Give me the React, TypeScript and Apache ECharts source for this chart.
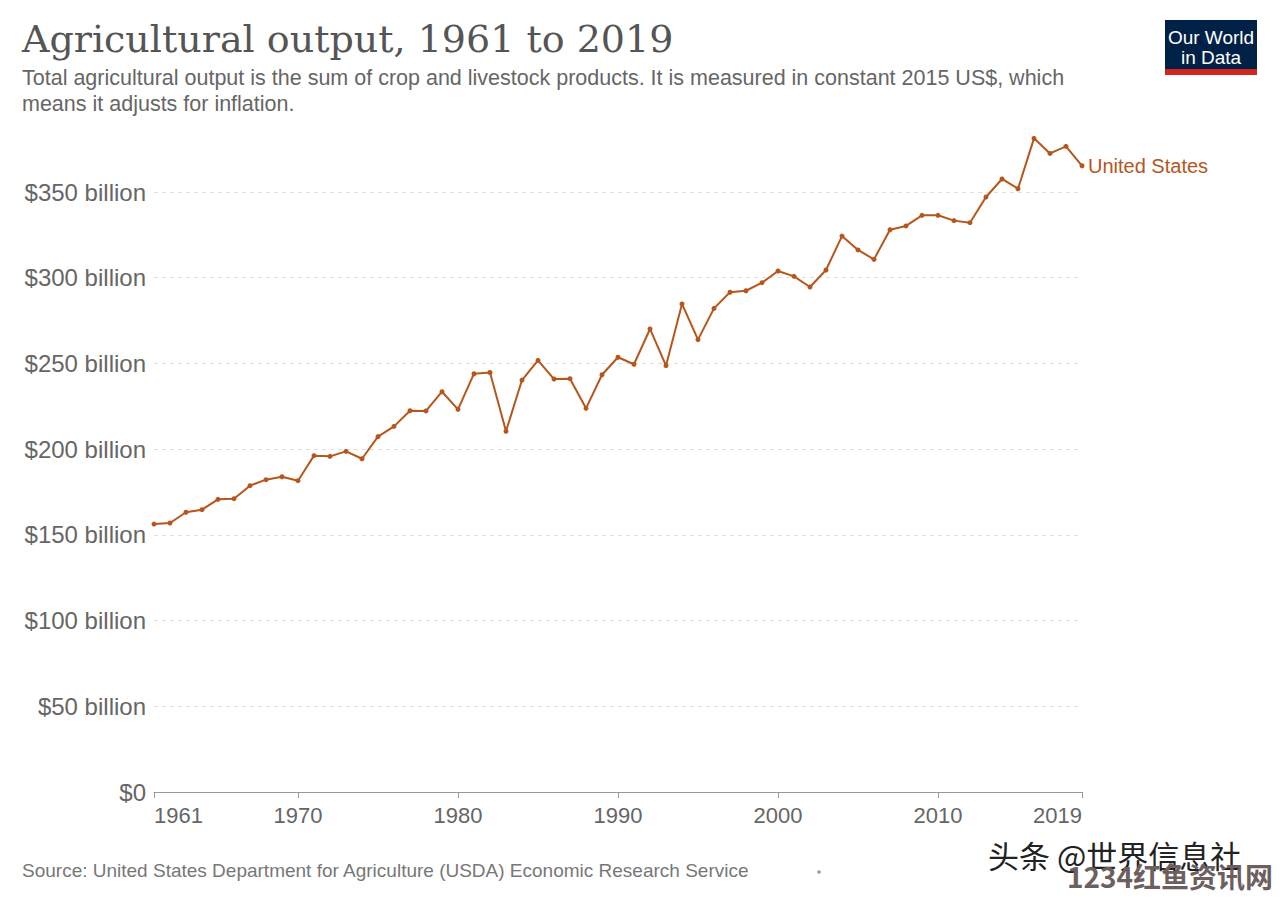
import React, { useEffect, useRef } from "react";
import * as echarts from "echarts";

const years: string[] = Array.from({ length: 59 }, (_, i) => String(1961 + i));
const shownYears: string[] = ["1961", "1970", "1980", "1990", "2000", "2010", "2019"];
const usOutput: number[] = [
  156.3, 156.9, 163.2, 164.7, 170.7, 171.1, 178.7, 182.2, 183.9, 181.6,
  196.2, 195.8, 198.7, 194.4, 207.3, 213.3, 222.4, 222.3, 233.5, 223.2,
  244.0, 244.7, 210.4, 240.3, 251.8, 240.9, 241.1, 223.8, 243.4, 253.6,
  249.5, 270.1, 248.7, 284.7, 263.9, 282.1, 291.5, 292.4, 297.1, 303.9,
  300.8, 294.6, 304.5, 324.3, 316.2, 310.7, 328.0, 330.2, 336.4, 336.4,
  333.3, 332.1, 347.1, 357.6, 351.9, 381.3, 372.5, 376.6, 365.3,
];
const seriesName = "United States";
const title = "Agricultural output, 1961 to 2019";
const subtitle1 =
  "Total agricultural output is the sum of crop and livestock products. It is measured in constant 2015 US$, which";
const subtitle2 = "means it adjusts for inflation.";
const source = "Source: United States Department for Agriculture (USDA) Economic Research Service";

const LINE_COLOR = "#b6561c";
const SANS = "'Liberation Sans', Arial, sans-serif";

export default function App() {
  const ref = useRef<HTMLDivElement>(null);
  useEffect(() => {
    if (!ref.current) return;
    const chart = echarts.init(ref.current, null, { renderer: "svg" });
    chart.setOption({
      animation: false,
      backgroundColor: "#ffffff",
      grid: { left: 154, right: 198, top: 192, bottom: 112 },
      xAxis: {
        type: "category",
        data: years,
        boundaryGap: false,
        axisLine: { show: true, lineStyle: { color: "#999", width: 1 } },
        axisTick: {
          show: true,
          length: 6,
          lineStyle: { color: "#999" },
          interval: (_i: number, v: string) => shownYears.includes(v),
        },
        axisLabel: {
          interval: (_i: number, v: string) => shownYears.includes(v),
          color: "#666",
          fontSize: 22,
          fontFamily: SANS,
          margin: 12,
          alignMinLabel: "left",
          alignMaxLabel: "right",
        },
        splitLine: { show: false },
      },
      yAxis: {
        type: "value",
        min: 0,
        max: 350,
        interval: 50,
        axisLine: { show: false },
        axisTick: { show: false },
        axisLabel: {
          color: "#666",
          fontSize: 24,
          fontFamily: SANS,
          margin: 8,
          formatter: (v: number) => (v === 0 ? "$0" : `$${v} billion`),
        },
        splitLine: { show: true, lineStyle: { color: "#ddd", type: [4, 4], width: 1 } },
      },
      series: [
        {
          name: seriesName,
          type: "line",
          data: usOutput,
          clip: false,
          symbol: "circle",
          symbolSize: 5,
          showSymbol: true,
          color: LINE_COLOR,
          lineStyle: { color: LINE_COLOR, width: 2 },
          itemStyle: { color: LINE_COLOR },
          endLabel: {
            show: true,
            formatter: seriesName,
            color: LINE_COLOR,
            fontSize: 20,
            fontFamily: SANS,
            distance: 6,
          },
        },
      ],
      graphic: [
        {
          type: "text",
          left: 22,
          top: 20,
          style: { text: title, font: "38px 'DejaVu Serif', serif", fill: "#555" },
        },
        {
          type: "text",
          left: 22,
          top: 67,
          style: { text: subtitle1, font: `21.5px ${SANS}`, fill: "#666" },
        },
        {
          type: "text",
          left: 22,
          top: 93,
          style: { text: subtitle2, font: `21.5px ${SANS}`, fill: "#666" },
        },
        {
          type: "group",
          left: 1165,
          top: 20,
          children: [
            { type: "rect", shape: { x: 0, y: 0, width: 92, height: 55 }, style: { fill: "#002147" } },
            { type: "rect", shape: { x: 0, y: 49, width: 92, height: 6 }, style: { fill: "#ce261e" } },
            {
              type: "text",
              x: 46,
              y: 17,
              style: { text: "Our World", font: `19px ${SANS}`, fill: "#fff", align: "center", verticalAlign: "middle" },
            },
            {
              type: "text",
              x: 46,
              y: 37,
              style: { text: "in Data", font: `19px ${SANS}`, fill: "#fff", align: "center", verticalAlign: "middle" },
            },
          ],
        },
        {
          type: "text",
          left: 22,
          top: 861,
          style: { text: source, font: `19px ${SANS}`, fill: "#777" },
        },
        { type: "circle", shape: { cx: 819, cy: 872, r: 1.8 }, style: { fill: "#999" } },
        {
          type: "text",
          left: 988,
          top: 839,
          style: { text: "头条 @世界信息社", font: "31px 'Noto Sans CJK SC', sans-serif", fill: "#222" },
        },
        {
          type: "text",
          left: 1067,
          top: 862,
          style: { text: "1234红鱼资讯网", font: "bold 28px 'Noto Sans CJK SC', sans-serif", fill: "#6d5f5f" },
        },
      ],
    });
    return () => chart.dispose();
  }, []);
  return <div ref={ref} style={{ position: "fixed", left: 0, top: 0, width: 1280, height: 904 }} />;
}
